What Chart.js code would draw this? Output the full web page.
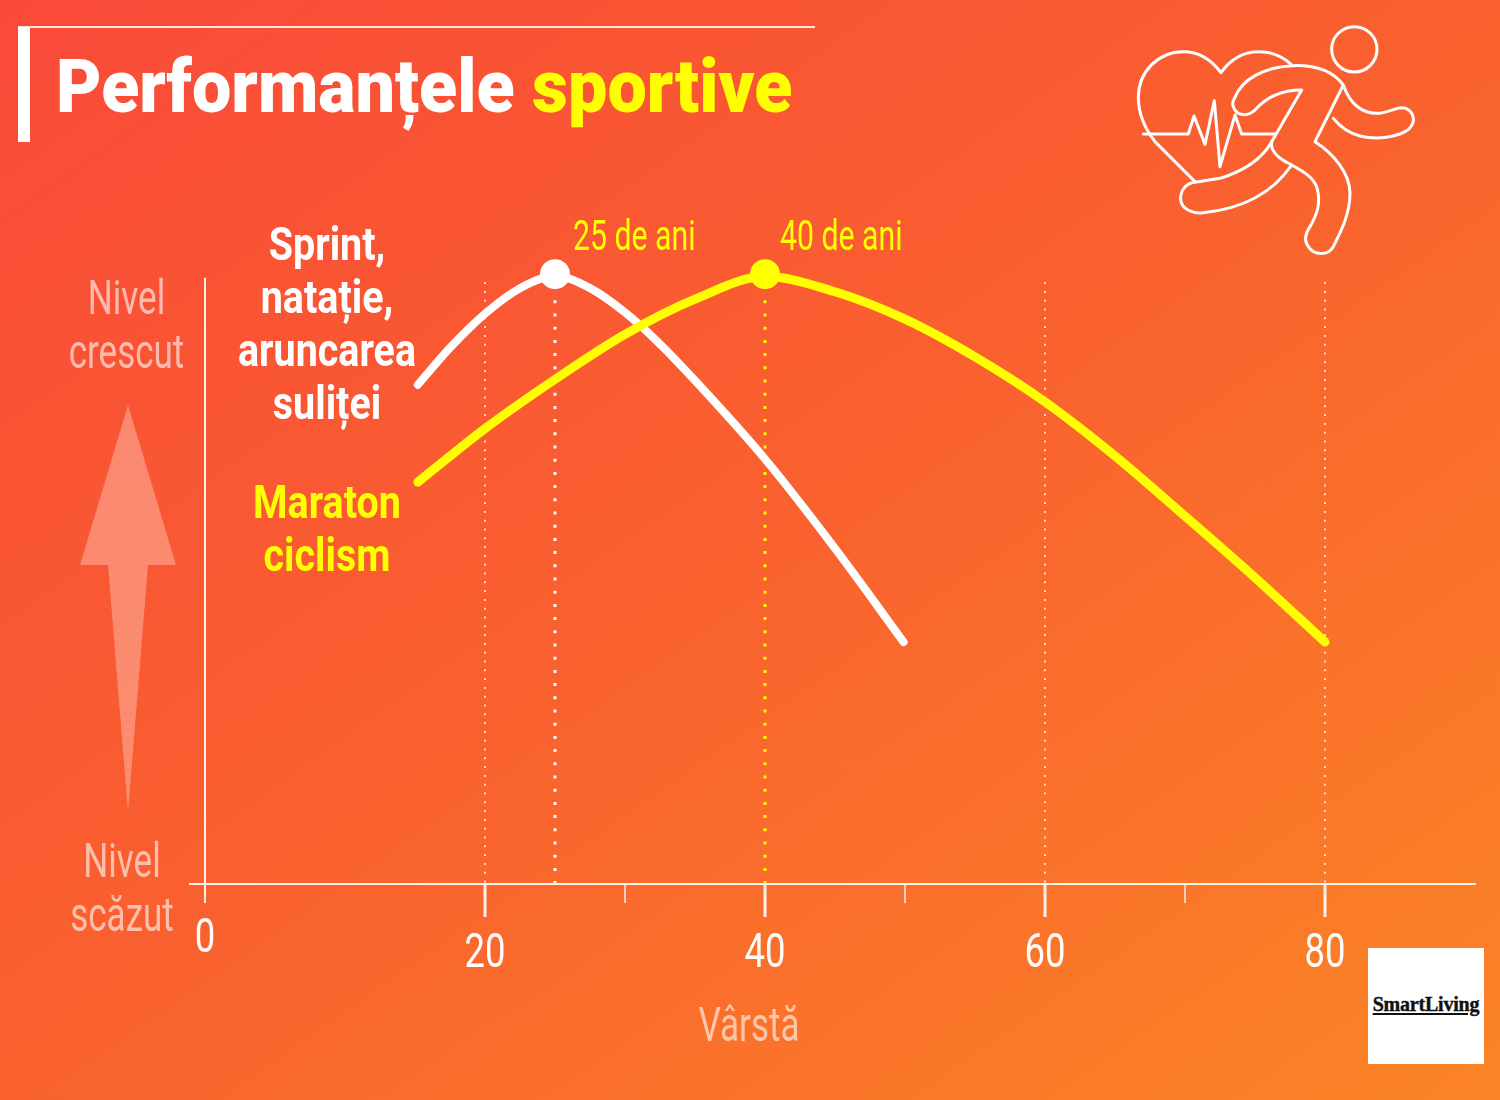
<!DOCTYPE html>
<html lang="ro">
<head>
<meta charset="utf-8">
<title>Performanțele sportive</title>
<script src="https://cdn.jsdelivr.net/npm/chart.js@4/dist/chart.umd.min.js"></script>
<style>
  html, body { margin: 0; padding: 0; }
  #page {
    position: relative; width: 1500px; height: 1100px; overflow: hidden;
    background: linear-gradient(145deg, #f94a39 0%, #f9602f 48%, #fb8526 100%);
  }
  #chart { position: absolute; left: 0; top: 0; }
  #rule-top { position: absolute; left: 18px; top: 26px; width: 797px; height: 2px; background: #fde4dc; }
  #rule-left { position: absolute; left: 18px; top: 27px; width: 12px; height: 115px; background: #fff; }
  h1 {
    position: absolute; left: 56px; top: 42px; margin: 0; white-space: nowrap;
    font: 900 75px Roboto, sans-serif; color: #fff;
    transform: scaleX(0.934); transform-origin: left top;
  }
  h1 span { color: #ffff00; }
  svg { position: absolute; }
  #logo { position: absolute; left: 1368px; top: 948px; width: 116px; height: 116px; background: #fff; }
  #logo div {
    position: absolute; left: 0; right: 0; top: 45px; text-align: center;
    font: 700 20px "Liberation Serif", serif; color: #111; text-decoration: underline;
    text-underline-offset: 2px; letter-spacing: -0.2px; -webkit-text-stroke: 0.4px #111;
  }
</style>
</head>
<body>
<div id="page">
  <canvas id="chart" width="1500" height="1100"></canvas>
  <div id="rule-top"></div>
  <div id="rule-left"></div>
  <h1>Performanțele <span>sportive</span></h1>

  <!-- level arrow -->
  <svg style="left:70px;top:400px" width="116" height="420" viewBox="70 400 116 420">
    <path d="M128 405 L176 565 L148 565 L128 812 L108 565 L80 565 Z" fill="#ffffff" fill-opacity="0.3"/>
  </svg>

  <!-- runner and heart icon -->
  <svg style="left:1120px;top:10px" width="310" height="260" viewBox="0 0 930 780"
       fill="none" stroke="#fff" stroke-width="9" stroke-linejoin="round" stroke-linecap="round">
    <circle cx="703" cy="118" r="68"/>
    <path d="M225 515 L105 395 C70 350 55 310 55 262 C55 185 115 125 190 125 C235 125 275 150 303 188 C330 150 370 125 415 125 C455 125 490 140 515 165"/>
    <path d="M70 372 H205 L222 318 L255 403 L283 272 L300 470 L345 315 L365 372 H465"/>
    <path d="M345 262 C365 210 430 170 520 167 C590 165 640 185 670 225 L585 395 C640 430 690 490 690 550 C690 610 665 660 640 710 C625 735 585 740 565 710 C550 690 560 665 570 650 C590 615 605 580 590 530 C575 495 540 480 510 462 C475 445 450 425 455 395 L545 240 C490 240 440 260 405 300 C385 320 350 320 340 290 C335 280 340 270 345 262 Z"/>
    <path d="M455 395 C430 440 380 480 300 505 L225 517 C195 520 180 545 182 570 C185 595 215 612 250 608 C350 598 450 560 515 465"/>
    <path d="M672 230 C690 280 725 310 770 310 C800 310 820 295 845 293 C870 293 882 315 880 335 C875 355 860 365 840 372 C800 385 760 388 720 378 C690 370 660 350 640 325"/>
  </svg>

  <div id="logo"><div>SmartLiving</div></div>
</div>

<script>
const tickAges = [0, 20, 30, 40, 50, 60, 70, 80];
const labelledAges = [20, 40, 60, 80];
const minorGuideAges = [20, 60, 80];

// Sprint, swimming and javelin curve
const sprintAges = [15.2, 17.5, 20, 22.5, 25, 27.5, 30, 32.5, 35, 40, 45, 49.9];
const sprintLevels = [82.1, 88.2, 93.8, 98, 100, 98, 94, 88.8, 82.8, 69.9, 55.2, 39.8];

// Marathon and cycling curve
const enduranceAges = [15.2, 20, 25, 30, 35, 40, 45, 50, 55, 60, 65, 70, 75, 80];
const enduranceLevels = [66.1, 74.9, 83, 90.4, 96.2, 99.9, 97.4, 92.9, 86.7, 79.3, 70.4, 60.5, 50.4, 39.8];

const peakAges = [25, 40];
const peakLabels = ['25 de ani', '40 de ani'];
const peakColors = ['#ffffff', '#ffff00'];

const sprintLabel = ['Sprint,', 'natație,', 'aruncarea', 'suliței'];
const enduranceLabel = ['Maraton', 'ciclism'];
const highLabel = ['Nivel', 'crescut'];
const lowLabel = ['Nivel', 'scăzut'];
const axisTitle = 'Vârstă';

const FACE = 'Roboto, sans-serif';
const PALE = 'rgba(255,255,255,0.6)';

function toPoints(xs, ys) {
  return xs.map((x, i) => ({ x: x, y: ys[i] }));
}

function guide(age, top, color, width, dash) {
  return {
    data: [{ x: age, y: top }, { x: age, y: 0 }],
    borderColor: color,
    borderWidth: width,
    borderDash: dash,
    pointRadius: 0,
    order: 4
  };
}

function curve(xs, ys, color, width, order) {
  return {
    data: toPoints(xs, ys),
    borderColor: color,
    borderWidth: width,
    borderCapStyle: 'round',
    borderJoinStyle: 'round',
    cubicInterpolationMode: 'monotone',
    pointRadius: 0,
    order: order
  };
}

// dotted drop lines, the two curves and the peak markers
const datasets = [];
minorGuideAges.forEach(a => datasets.push(guide(a, 99, 'rgba(255,255,255,0.75)', 2, [2, 6.8])));
peakAges.forEach((a, i) => datasets.push(guide(a, 96, peakColors[i], 3, [3, 10.2])));
datasets.push(curve(sprintAges, sprintLevels, peakColors[0], 8, 3));
datasets.push(curve(enduranceAges, enduranceLevels, peakColors[1], 9, 2));
peakAges.forEach((a, i) => datasets.push({
  data: [{ x: a, y: 100.3 }],
  pointRadius: 15,
  pointBackgroundColor: peakColors[i],
  pointBorderWidth: 0,
  showLine: false,
  order: 1
}));

// Roboto is squeezed horizontally to get the condensed look
function narrowText(ctx, lines, x, y, step, font, color, squeeze, align) {
  ctx.font = font;
  ctx.fillStyle = color;
  ctx.textAlign = align || 'center';
  ctx.textBaseline = 'alphabetic';
  lines.forEach((t, i) => {
    ctx.save();
    ctx.translate(x, y + i * step);
    ctx.scale(squeeze, 1);
    ctx.fillText(t, 0, 0);
    ctx.restore();
  });
}

// axis lines, tick marks and every label that sits on the chart
const annotations = {
  id: 'annotations',
  afterDatasetsDraw(chart) {
    const ctx = chart.ctx;
    const xs = chart.scales.x;
    const ys = chart.scales.y;
    const base = ys.getPixelForValue(0);
    const regular = '400 48px ' + FACE;
    const bold = '700 47px ' + FACE;
    ctx.save();

    ctx.strokeStyle = '#fff0ea';
    ctx.lineWidth = 2;
    ctx.beginPath();
    ctx.moveTo(xs.getPixelForValue(0), ys.getPixelForValue(99.7));
    ctx.lineTo(xs.getPixelForValue(0), base + 19);
    ctx.stroke();

    tickAges.forEach(a => {
      if (a === 0) return;
      const x = xs.getPixelForValue(a);
      const long = labelledAges.includes(a);
      ctx.lineWidth = long ? 3 : 1.5;
      ctx.beginPath();
      ctx.moveTo(x, base);
      ctx.lineTo(x, base + (long ? 33 : 19));
      ctx.stroke();
    });

    labelledAges.forEach(a => {
      narrowText(ctx, [String(a)], xs.getPixelForValue(a), 967, 0, regular, '#fff', 0.76);
    });
    narrowText(ctx, ['0'], xs.getPixelForValue(0), 952, 0, regular, '#fff', 0.76);

    narrowText(ctx, sprintLabel, 327, 260, 53, bold, '#fff', 0.84);
    narrowText(ctx, enduranceLabel, 327, 518, 53, bold, peakColors[1], 0.84);
    narrowText(ctx, highLabel, 126.5, 314, 54, regular, PALE, 0.73);
    narrowText(ctx, lowLabel, 122, 877, 54, regular, PALE, 0.73);
    narrowText(ctx, [axisTitle], 749, 1041, 0, regular, PALE, 0.73);

    peakAges.forEach((a, i) => {
      narrowText(ctx, [peakLabels[i]], xs.getPixelForValue(a) + (i ? 15 : 18), 250, 0, '400 42px ' + FACE, peakColors[1], 0.72, 'left');
    });
    ctx.restore();
  }
};

new Chart(document.getElementById('chart'), {
  type: 'line',
  data: { datasets: datasets },
  plugins: [annotations],
  options: {
    responsive: false,
    animation: false,
    layout: { padding: { left: 190, right: 25, top: 215.2, bottom: 0 } },
    plugins: { legend: { display: false }, tooltip: { enabled: false } },
    scales: {
      x: {
        type: 'linear',
        min: -1.0714,
        max: 90.714,
        afterFit(scale) { scale.height = 216; },
        afterBuildTicks(scale) { scale.ticks = tickAges.map(v => ({ value: v })); },
        border: { display: true, color: '#fff0ea', width: 2 },
        grid: { display: false, drawTicks: false },
        ticks: { display: false }
      },
      y: { display: false, min: 0, max: 110 }
    }
  }
});
</script>
</body>
</html>
